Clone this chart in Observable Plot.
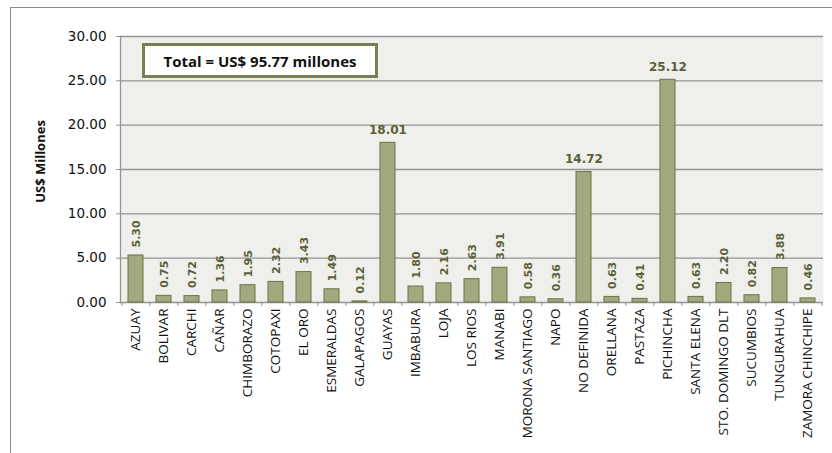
<!DOCTYPE html>
<html>
<head>
<meta charset="utf-8">
<script src="https://cdn.jsdelivr.net/npm/d3@7"></script>
<script src="https://cdn.jsdelivr.net/npm/@observablehq/plot@0.6"></script>
<style>
  body { margin: 0; background: white; }
  #wrap { position: relative; width: 832px; height: 453px; overflow: hidden; }
  #frame { position: absolute; left: 10px; top: 7px; width: 840px; height: 470px; border: 1.5px solid #8c8c8c; pointer-events: none; }
  #note { position: absolute; left: 142px; top: 43px; width: 230px; height: 29px; border: 3px solid #7b7f52; background: white;
          font-family: "Open Sans", sans-serif; font-weight: bold; font-size: 15px; color: #111; display: flex; align-items: center; justify-content: center; }
</style>
</head>
<body>
<div id="wrap"></div>
<script>
const provinces = ["AZUAY","BOLIVAR","CARCHI","CAÑAR","CHIMBORAZO","COTOPAXI","EL ORO","ESMERALDAS","GALAPAGOS","GUAYAS","IMBABURA","LOJA","LOS RIOS","MANABI","MORONA SANTIAGO","NAPO","NO DEFINIDA","ORELLANA","PASTAZA","PICHINCHA","SANTA ELENA","STO. DOMINGO DLT","SUCUMBIOS","TUNGURAHUA","ZAMORA CHINCHIPE"];
const values = [5.30,0.75,0.72,1.36,1.95,2.32,3.43,1.49,0.12,18.01,1.80,2.16,2.63,3.91,0.58,0.36,14.72,0.63,0.41,25.12,0.63,2.20,0.82,3.88,0.46];
const yTicks = [0,5,10,15,20,25,30];
const totalLabel = "Total = US$ 95.77 millones";
const yTitle = "US$ Millones";

const data = provinces.map((p, i) => ({province: p, value: values[i]}));
const W = 832, H = 453, mL = 120, mR = 9, mT = 36, mB = 151;
const step = (W - mL - mR) / provinces.length;
const barColor = "#a4a87e", barStroke = "#6d7248", labelColor = "#5b5f38", gridColor = "#949494";

const chart = Plot.plot({
  width: W, height: H,
  marginLeft: mL, marginRight: mR, marginTop: mT, marginBottom: mB,
  x: {domain: provinces, paddingInner: 0.47, paddingOuter: 0.235},
  y: {domain: [0, 30]},
  marks: [
    Plot.frame({fill: "#efefeb", stroke: null}),
    Plot.ruleY(yTicks, {stroke: gridColor, strokeWidth: 1.3}),
    Plot.frame({anchor: "left", stroke: gridColor, strokeWidth: 1.3}),
    Plot.axisY({ticks: yTicks, tickFormat: d => d.toFixed(2), tickSize: 4, tickPadding: 10, stroke: gridColor,
                fontSize: 13.5, fontFamily: "DejaVu Sans", fill: "#111", label: null}),
    Plot.axisX({ticks: provinces, tickSize: 4, text: null, dx: -step / 2, stroke: gridColor, label: null}),
    Plot.axisX({ticks: provinces.slice(-1), tickSize: 4, text: null, dx: step / 2, stroke: gridColor, label: null}),
    Plot.axisX({tickSize: 0, tickRotate: -90, tickPadding: 6, fontSize: 13.5, fontFamily: "Open Sans", fill: "#111", label: null}),
    Plot.barY(data, {x: "province", y: "value", fill: barColor, stroke: barStroke, strokeWidth: 1}),
    Plot.text(data.filter(d => d.value < 10), {x: "province", y: "value", text: d => d.value.toFixed(2), rotate: -90,
      textAnchor: "start", dy: -8, fontSize: 11, fontWeight: "bold", fontFamily: "DejaVu Sans", fill: labelColor}),
    Plot.text(data.filter(d => d.value >= 10), {x: "province", y: "value", text: d => d.value.toFixed(2),
      dy: -13, fontSize: 12, fontWeight: "bold", fontFamily: "DejaVu Sans", fill: labelColor}),
    Plot.text([yTitle], {frameAnchor: "left", textAnchor: "middle", dx: -80, dy: -8, rotate: -90, text: d => d, fontSize: 13,
      fontWeight: "bold", fontFamily: "Open Sans", fill: "#111"})
  ]
});
const wrap = document.getElementById("wrap");
wrap.appendChild(chart);
const note = document.createElement("div");
note.id = "note"; note.textContent = totalLabel;
wrap.appendChild(note);
const fr = document.createElement("div");
fr.id = "frame";
wrap.appendChild(fr);
chart.style.position = "absolute"; chart.style.left = "0"; chart.style.top = "0";
</script>
</body>
</html>
